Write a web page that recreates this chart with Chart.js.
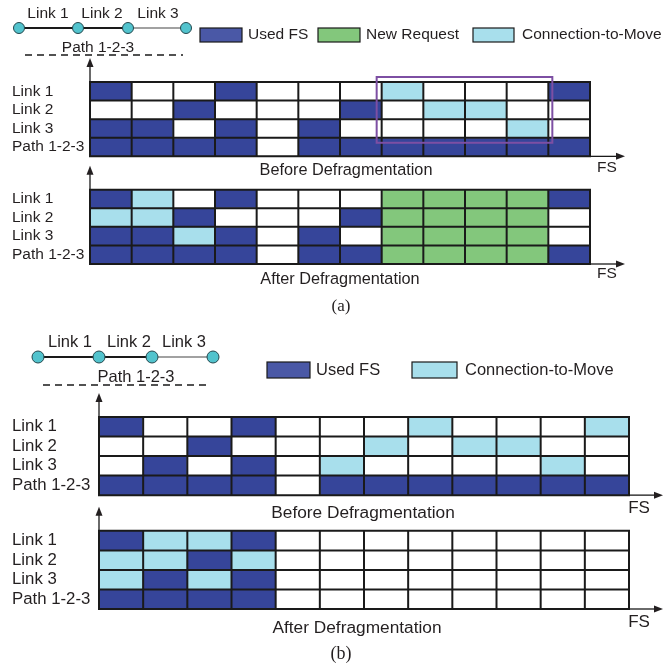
<!DOCTYPE html>
<html>
<head>
<meta charset="utf-8">
<script src="https://cdn.jsdelivr.net/npm/chart.js@4.4.1/dist/chart.umd.min.js"></script>
<style>
  html, body { margin:0; padding:0; background:#ffffff; }
  body { width:671px; height:664px; overflow:hidden; position:relative; }
  canvas { position:absolute; left:0; }
</style>
</head>
<body>
<canvas id="chartA" width="671" height="320" style="top:0px"></canvas>
<canvas id="chartB" width="671" height="344" style="top:320px"></canvas>
<script>
// ---------- data ----------
const fsSlots = 12;
const rowLabels = ['Link 1', 'Link 2', 'Link 3', 'Path 1-2-3'];
const linkNames = ['Link 1', 'Link 2', 'Link 3'];
const pathName = 'Path 1-2-3';
const stateNames = ['Free FS', 'Used FS', 'New Request', 'Connection-to-Move'];
// 0 = free, 1 = used, 2 = new request, 3 = connection-to-move
const aBefore = [
  [1,0,0,1,0,0,0,3,0,0,0,1],
  [0,0,1,0,0,0,1,0,3,3,0,0],
  [1,1,0,1,0,1,0,0,0,0,3,0],
  [1,1,1,1,0,1,1,1,1,1,1,1]
];
const aAfter = [
  [1,3,0,1,0,0,0,2,2,2,2,1],
  [3,3,1,0,0,0,1,2,2,2,2,0],
  [1,1,3,1,0,1,0,2,2,2,2,0],
  [1,1,1,1,0,1,1,2,2,2,2,1]
];
const bBefore = [
  [1,0,0,1,0,0,0,3,0,0,0,3],
  [0,0,1,0,0,0,3,0,3,3,0,0],
  [0,1,0,1,0,3,0,0,0,0,3,0],
  [1,1,1,1,0,1,1,1,1,1,1,1]
];
const bAfter = [
  [1,3,3,1,0,0,0,0,0,0,0,0],
  [3,3,1,3,0,0,0,0,0,0,0,0],
  [3,1,3,1,0,0,0,0,0,0,0,0],
  [1,1,1,1,0,0,0,0,0,0,0,0]
];
const titles = ['Before Defragmentation', 'After Defragmentation'];
const axisName = 'FS';

// ---------- styles ----------
const stateColors = ['#ffffff', '#36459a', '#83c77c', '#a8dfec'];
const legendColors = ['#ffffff', '#4a58a6', '#83c77c', '#a8dfec'];
const gridLine = '#1a1a1a';
const textColor = '#231f20';
const FONT = '"Liberation Sans", Arial, Helvetica, sans-serif';
const SERIF = '"Liberation Serif", "Times New Roman", serif';

const decorConfigs = {
  chartA: {
    padding: {left:12, right:81, top:82, bottom:56}, axisWidth:78, rowFont:15.5, gap:1.79,
    nodes:[19,78,128,186], nodeY:28, nodeR:5.5,
    linkLabels:[[48,14],[102,14],[158,14]], labelFont:15.5,
    pathText:[98,48], dash:[25,183,55],
    legendFont:15.5, legendTextY:35,
    legend:[[1,200,28,42,14,248],[2,318,28,42,14,366],[3,473,28,41,14,522]],
    titleFont:16.3, before:[346,171], after:[340,280],
    fs:[[607,168],[607,274]], fsFont:15.5,
    caption:['(a)',341,307], captionFont:17,
    arrowUp:24, arrowRight:35, highlight:true
  },
  chartB: {
    padding: {left:12, right:42, top:97, bottom:55}, axisWidth:87, rowFont:16.8, gap:1.83,
    nodes:[38,99,152,213], nodeY:37, nodeR:6,
    linkLabels:[[70,22],[129,22],[184,22]], labelFont:16.5,
    pathText:[136,57], dash:[43,210,65],
    legendFont:16.5, legendTextY:50,
    legend:[[1,267,42,43,16,316],[3,412,42,45,16,465]],
    titleFont:17.3, before:[363,193], after:[357,308],
    fs:[[639,188],[639,302]], fsFont:17,
    caption:['(b)',341,334], captionFont:18,
    arrowUp:24, arrowRight:34, highlight:false
  }
};

function arrowTo(ctx, x1, y1, x2, y2) {
  const ang = Math.atan2(y2 - y1, x2 - x1), L = 9, W = 3.5;
  ctx.beginPath();
  ctx.moveTo(x1, y1);
  ctx.lineTo(x2 - Math.cos(ang) * L * 0.6, y2 - Math.sin(ang) * L * 0.6);
  ctx.stroke();
  ctx.beginPath();
  ctx.moveTo(x2, y2);
  ctx.lineTo(x2 - L * Math.cos(ang) + W * Math.sin(ang), y2 - L * Math.sin(ang) - W * Math.cos(ang));
  ctx.lineTo(x2 - L * Math.cos(ang) - W * Math.sin(ang), y2 - L * Math.sin(ang) + W * Math.cos(ang));
  ctx.closePath();
  ctx.fill();
}

const decorPlugin = {
  id: 'decor',
  afterDatasetsDraw(chart) {
    const cfg = decorConfigs[chart.canvas.id];
    const meta = chart.$gridInfo;
    const ctx = chart.ctx;
    const xs = chart.scales.x, ys = chart.scales.y;
    ctx.save();
    ctx.fillStyle = textColor;
    const left = xs.getPixelForValue(0), right = xs.getPixelForValue(fsSlots);
    meta.starts.forEach(start => {
      const top = ys.getPixelForValue(start), bottom = ys.getPixelForValue(start + rowLabels.length);
      // cell grid lines
      ctx.strokeStyle = gridLine;
      ctx.lineWidth = 2;
      ctx.beginPath();
      for (let c = 0; c <= fsSlots; c++) {
        const x = xs.getPixelForValue(c);
        ctx.moveTo(x, top - 1); ctx.lineTo(x, bottom + 1);
      }
      for (let r = 0; r <= rowLabels.length; r++) {
        const y = ys.getPixelForValue(start + r);
        ctx.moveTo(left - 1, y); ctx.lineTo(right + 1, y);
      }
      ctx.stroke();
      ctx.lineWidth = 1.3;
      arrowTo(ctx, left, top, left, top - cfg.arrowUp);
      arrowTo(ctx, right, bottom, right + cfg.arrowRight, bottom);
    });
    if (cfg.highlight) {
      const x1 = xs.getPixelForValue(7) - 5, x2 = xs.getPixelForValue(11) + 4;
      const y1 = ys.getPixelForValue(0) - 5, y2 = ys.getPixelForValue(3) + 5;
      ctx.strokeStyle = '#7d4fa3';
      ctx.lineWidth = 2;
      ctx.strokeRect(x1, y1, x2 - x1, y2 - y1);
    }
    // path diagram
    const n = cfg.nodes, ny = cfg.nodeY;
    for (let i = 0; i < n.length - 1; i++) {
      ctx.lineWidth = i < 2 ? 2 : 1.2;
      ctx.strokeStyle = i < 2 ? '#1a1a1a' : '#444444';
      ctx.beginPath(); ctx.moveTo(n[i], ny); ctx.lineTo(n[i + 1], ny); ctx.stroke();
    }
    n.forEach(x => {
      ctx.beginPath(); ctx.arc(x, ny, cfg.nodeR, 0, Math.PI * 2);
      ctx.fillStyle = '#52c3cd'; ctx.fill();
      ctx.lineWidth = 1; ctx.strokeStyle = '#24474d'; ctx.stroke();
    });
    ctx.fillStyle = textColor;
    ctx.textBaseline = 'middle';
    ctx.textAlign = 'center';
    ctx.font = cfg.labelFont + 'px ' + FONT;
    linkNames.forEach((t, i) => ctx.fillText(t, cfg.linkLabels[i][0], cfg.linkLabels[i][1]));
    ctx.fillText(pathName, cfg.pathText[0], cfg.pathText[1]);
    ctx.strokeStyle = '#1a1a1a';
    ctx.lineWidth = 1.6;
    ctx.setLineDash([7, 5]);
    ctx.beginPath(); ctx.moveTo(cfg.dash[0], cfg.dash[2]); ctx.lineTo(cfg.dash[1], cfg.dash[2]); ctx.stroke();
    ctx.setLineDash([]);
    // legend
    ctx.textAlign = 'left';
    ctx.font = cfg.legendFont + 'px ' + FONT;
    cfg.legend.forEach(([s, bx, by, bw, bh, tx]) => {
      ctx.fillStyle = legendColors[s];
      ctx.fillRect(bx, by, bw, bh);
      ctx.lineWidth = 1.2; ctx.strokeStyle = '#1a1a1a';
      ctx.strokeRect(bx, by, bw, bh);
      ctx.fillStyle = textColor;
      ctx.fillText(stateNames[s], tx, cfg.legendTextY);
    });
    // titles
    ctx.textAlign = 'center';
    ctx.font = cfg.titleFont + 'px ' + FONT;
    ctx.fillText(titles[0], cfg.before[0], cfg.before[1]);
    ctx.fillText(titles[1], cfg.after[0], cfg.after[1]);
    ctx.font = cfg.fsFont + 'px ' + FONT;
    cfg.fs.forEach(([x, y]) => ctx.fillText(axisName, x, y));
    ctx.font = cfg.captionFont + 'px ' + SERIF;
    ctx.fillText(cfg.caption[0], cfg.caption[1], cfg.caption[2]);
    ctx.restore();
  }
};

function makeChart(canvasId, before, after) {
  const cfg = decorConfigs[canvasId];
  const beforeCenters = before.map((_, r) => r + 0.5);
  const afterStart = before.length + cfg.gap;
  const afterCenters = after.map((_, r) => afterStart + r + 0.5);
  const tickVals = [...beforeCenters, ...afterCenters];
  const tickText = [...rowLabels, ...rowLabels];
  const total = afterStart + after.length;
  const datasets = stateNames.map((name, s) => {
    const data = [];
    [[before, beforeCenters], [after, afterCenters]].forEach(([grid, centers]) => {
      grid.forEach((row, r) => row.forEach((v, c) => {
        if (v === s) data.push({x: [c, c + 1], y: centers[r]});
      }));
    });
    return {
      label: name, data,
      backgroundColor: stateColors[s], borderWidth: 0,
      borderSkipped: false, inflateAmount: 0.5, grouped: false,
      barPercentage: 1, categoryPercentage: 1
    };
  });
  const canvas = document.getElementById(canvasId);
  return new Chart(canvas, {
    type: 'bar',
    data: {datasets},
    options: {
      indexAxis: 'y',
      responsive: false,
      animation: false,
      devicePixelRatio: 1,
      layout: {padding: cfg.padding},
      plugins: {legend: {display: false}, tooltip: {enabled: false}},
      scales: {
        x: {type: 'linear', min: 0, max: fsSlots, display: false, offset: false},
        y: {
          type: 'linear', reverse: true, min: 0, max: total, offset: false,
          grid: {display: false, drawTicks: false, offset: false}, border: {display: false},
          afterBuildTicks: sc => { sc.ticks = tickVals.map(v => ({value: v})); },
          afterFit: sc => { sc.width = cfg.axisWidth; },
          ticks: {
            autoSkip: false, crossAlign: 'far', padding: 0, color: textColor,
            font: {family: FONT, size: cfg.rowFont},
            callback: (v, i) => tickText[i]
          }
        }
      }
    },
    plugins: [{
      id: 'gridInfo',
      beforeDraw(chart) { chart.$gridInfo = {starts: [0, afterStart]}; }
    }, decorPlugin]
  });
}

makeChart('chartA', aBefore, aAfter);
makeChart('chartB', bBefore, bAfter);
</script>
</body>
</html>
